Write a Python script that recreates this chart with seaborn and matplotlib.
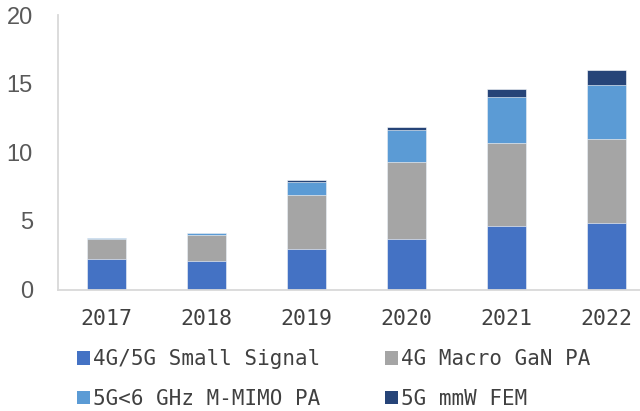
import numpy as np
import pandas as pd
import seaborn as sns
import matplotlib.pyplot as plt
from matplotlib.patches import Patch

# Data
years = ['2017', '2018', '2019', '2020', '2021', '2022']
small_signal = [2.25, 2.05, 2.95, 3.7, 4.6, 4.85]
macro_gan = [1.45, 1.9, 3.9, 5.6, 6.1, 6.15]
mimo_pa = [0.07, 0.2, 0.95, 2.3, 3.35, 3.9]
mmw_fem = [0.0, 0.0, 0.15, 0.25, 0.55, 1.1]

series_names = ['4G/5G Small Signal', '4G Macro GaN PA', '5G<6 GHz M-MIMO PA', '5G mmW FEM']
colors = ['#4472C4', '#A5A5A5', '#5B9BD5', '#264478']

df = pd.DataFrame({'year': years,
                   series_names[0]: small_signal,
                   series_names[1]: macro_gan,
                   series_names[2]: mimo_pa,
                   series_names[3]: mmw_fem})

sns.set_style('white')

fig = plt.figure(figsize=(6.4, 4.11), dpi=100)
ax = fig.add_axes([0.0906, 0.2956, 0.9094, 0.6679])

# stacked bars: draw cumulative totals from the top series down
cum = df[series_names].cumsum(axis=1)
for name, col in reversed(list(zip(series_names, colors))):
    sns.barplot(x=df['year'], y=cum[name], color=col, width=0.39,
                edgecolor='white', linewidth=0.4, saturation=1, ax=ax)

ax.set_xlim(-0.485, 5.335)
ax.set_ylim(0, 20)
ax.set_yticks([0, 5, 10, 15, 20])
ax.set_xlabel('')
ax.set_ylabel('')

for side in ['top', 'right']:
    ax.spines[side].set_visible(False)
for side in ['left', 'bottom']:
    ax.spines[side].set_color('#D9D9D9')
    ax.spines[side].set_linewidth(1.3)

ax.tick_params(axis='y', direction='in', length=5, width=1.2, color='#D9D9D9',
               pad=18, labelsize=17, labelcolor='#595959')
ax.tick_params(axis='x', length=0, pad=14, labelsize=15.5, labelcolor='#404040')
for lab in ax.get_yticklabels():
    lab.set_fontfamily('Liberation Sans')
for lab in ax.get_xticklabels():
    lab.set_fontfamily('DejaVu Sans Mono')

# legend: two columns, row-wise order as in the reference
order = [0, 2, 1, 3]
handles = [Patch(facecolor=colors[i], edgecolor='none', label=series_names[i]) for i in order]
leg = fig.legend(handles=handles, ncol=2, loc='upper left',
                 bbox_to_anchor=(0.121, 0.150), frameon=False,
                 prop={'family': 'DejaVu Sans Mono', 'size': 15},
                 handlelength=0.62, handleheight=0.62, handletextpad=0.15,
                 columnspacing=3.1, labelspacing=0.94, borderpad=0, borderaxespad=0)
for t in leg.get_texts():
    t.set_color('#404040')

fig.savefig('out.png', dpi=100)
